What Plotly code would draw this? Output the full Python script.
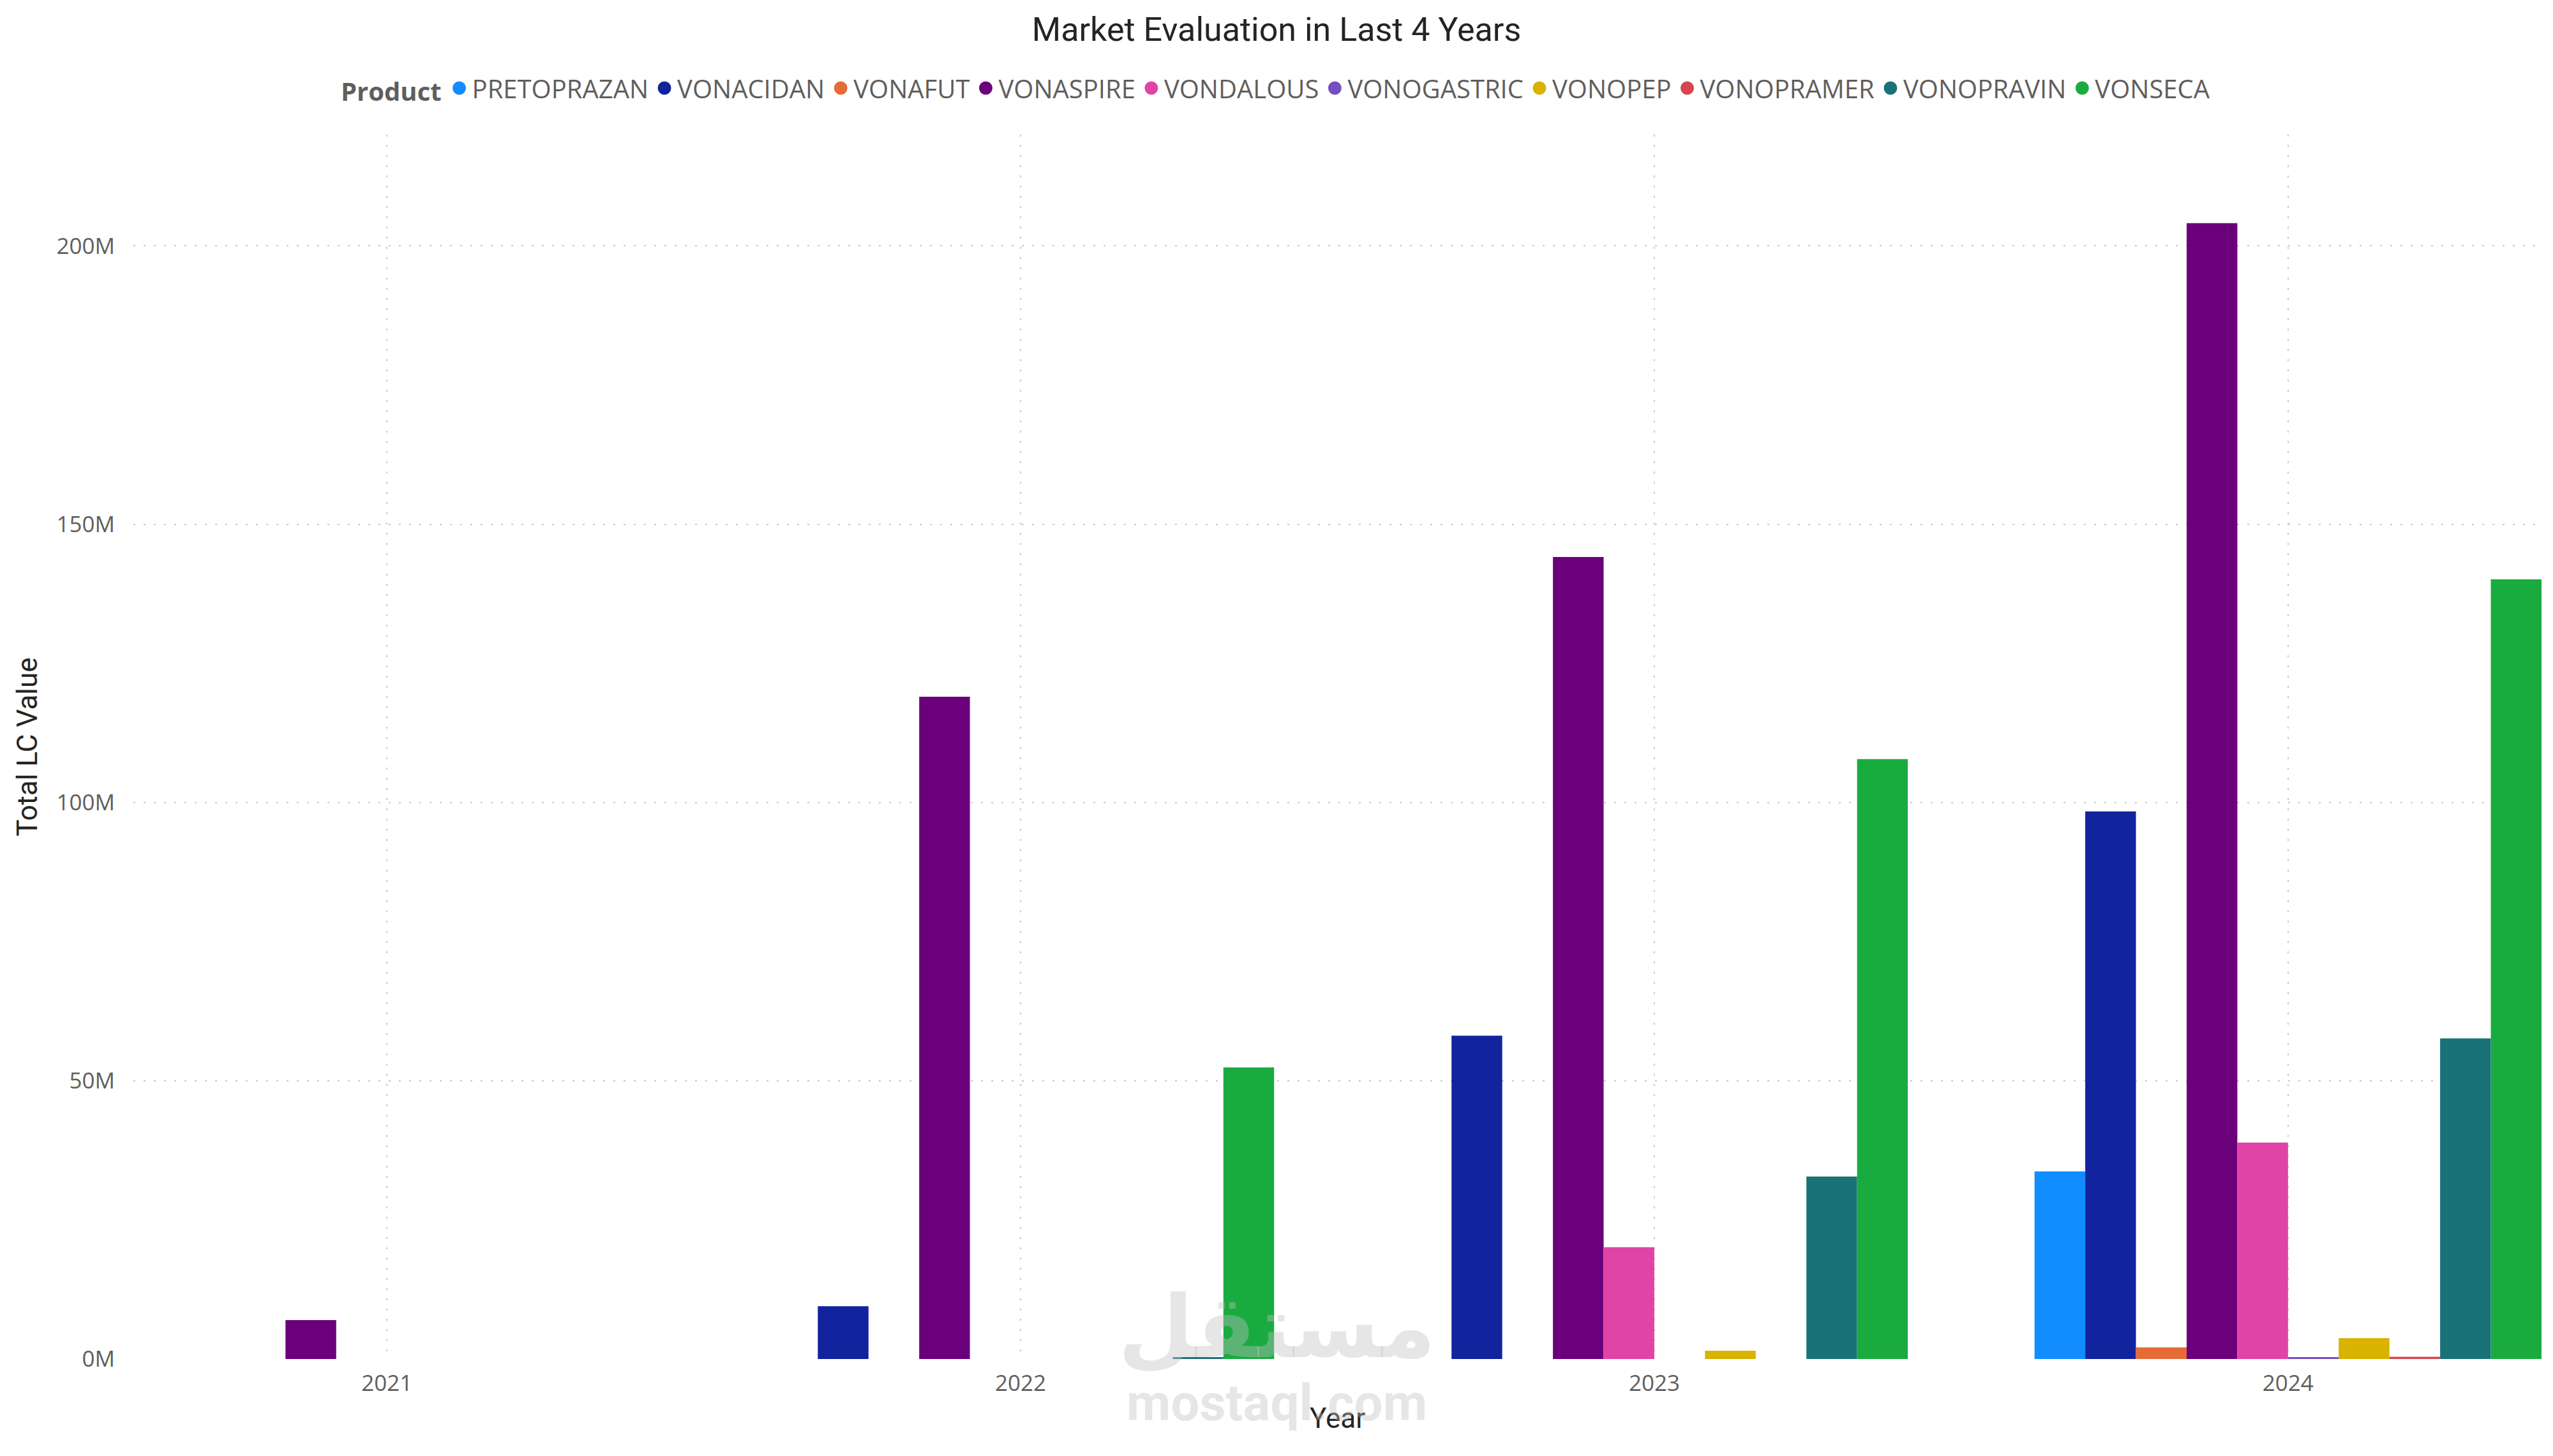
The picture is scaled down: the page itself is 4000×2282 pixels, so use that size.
import plotly.graph_objects as go

# ---------------- data ----------------
years = [2021, 2022, 2023, 2024]
products = ["PRETOPRAZAN", "VONACIDAN", "VONAFUT", "VONASPIRE", "VONDALOUS",
            "VONOGASTRIC", "VONOPEP", "VONOPRAMER", "VONOPRAVIN", "VONSECA"]

# Total LC Value in millions, per year (None = no bar)
pretoprazan = [None, None, None, 33.7]
vonacidan = [None, 9.5, 58.1, 98.4]
vonafut = [None, None, None, 2.1]
vonaspire = [7.0, 119.0, 144.1, 204.1]
vondalous = [None, None, 20.1, 38.9]
vonogastric = [None, None, None, 0.35]
vonopep = [None, None, 1.5, 3.75]
vonopramer = [None, None, None, 0.4]
vonopravin = [None, 0.35, 32.8, 57.6]
vonseca = [None, 52.4, 107.8, 140.1]

series = [pretoprazan, vonacidan, vonafut, vonaspire, vondalous,
          vonogastric, vonopep, vonopramer, vonopravin, vonseca]

colors = ["#118DFF", "#12239E", "#E66C37", "#6B007B", "#E044A7",
          "#744EC2", "#D9B300", "#D64550", "#197278", "#1AAB40"]

y_tickvals_m = [0, 50, 100, 150, 200]
y_ticktext = ["0M", "50M", "100M", "150M", "200M"]
x_ticktext = ["2021", "2022", "2023", "2024"]

# ---------------- figure ----------------
fig = go.Figure()

for name, vals, col in zip(products, series, colors):
    yv = [None if v is None else v * 1e6 for v in vals]
    fig.add_trace(go.Bar(
        x=years, y=yv, name=name, legendgroup=name, showlegend=False,
        marker=dict(color=col, line=dict(width=0)),
    ))

# legend entries with round markers
for name, col in zip(products, colors):
    fig.add_trace(go.Scatter(
        x=[None], y=[None], mode="markers", name=name, legendgroup=name,
        marker=dict(symbol="circle", size=16, color=col,
                    line=dict(color=col, width=5)),
        showlegend=True,
    ))

grid_col = "#C8C8C8"

fig.update_layout(
    width=4000, height=2282, autosize=False,
    paper_bgcolor="white", plot_bgcolor="white",
    margin=dict(l=209, r=18, t=211, b=152),
    barmode="group", bargap=0.2, bargroupgap=0,
    title=dict(
        text="Market Evaluation in Last 4 Years",
        x=0.5, xanchor="center", xref="container",
        y=1 - 46 / 2282, yanchor="middle", yref="container",
        font=dict(family="Roboto", size=52, color="#252423"),
    ),
    legend=dict(
        orientation="h", x=0.5, xanchor="center", xref="container",
        y=1 - 138 / 2282, yanchor="middle", yref="container",
        font=dict(family="Open Sans", size=40, color="#605E5C"),
        title=dict(text="<b>Product</b>",
                   font=dict(family="Open Sans", size=40, color="#605E5C")),
        traceorder="normal", itemclick=False, itemdoubleclick=False,
        bgcolor="rgba(0,0,0,0)",
    ),
    xaxis=dict(
        range=[2020.6, 2024.4],
        tickmode="array", tickvals=years, ticktext=x_ticktext,
        showgrid=True, gridcolor=grid_col, gridwidth=2, griddash="3px,13px",
        zeroline=False, showline=False, ticks="",
        tickfont=dict(family="Open Sans", size=35, color="#605E5C"),
        ticklabelstandoff=14,
        title=dict(text="Year", standoff=18,
                   font=dict(family="Roboto", size=44, color="#252423")),
        automargin=False,
    ),
    yaxis=dict(
        range=[0, 220e6],
        tickmode="array", tickvals=[v * 1e6 for v in y_tickvals_m],
        ticktext=y_ticktext,
        showgrid=True, gridcolor=grid_col, gridwidth=2, griddash="3px,13px",
        zeroline=False, showline=False, ticks="",
        tickfont=dict(family="Open Sans", size=35, color="#605E5C"),
        ticklabelstandoff=28,
        title=dict(text="Total LC Value", standoff=16,
                   font=dict(family="Roboto", size=44, color="#252423")),
        automargin=False,
    ),
)

# faint watermark
fig.add_annotation(
    text="مستقل", x=(2000 - 209) / 3773, y=(2130 - 2080) / 1919,
    xref="paper", yref="paper", xanchor="center", yanchor="middle",
    showarrow=False,
    font=dict(family="DejaVu Sans", size=136, color="rgba(192,192,192,0.4)",
              weight="bold"),
)
fig.add_annotation(
    text="mostaql.com", x=(2000 - 209) / 3773, y=(2130 - 2199) / 1919,
    xref="paper", yref="paper", xanchor="center", yanchor="middle",
    showarrow=False,
    font=dict(family="Roboto", size=80, color="rgba(192,192,192,0.4)",
              weight="bold"),
)

fig.write_html("out.html")
